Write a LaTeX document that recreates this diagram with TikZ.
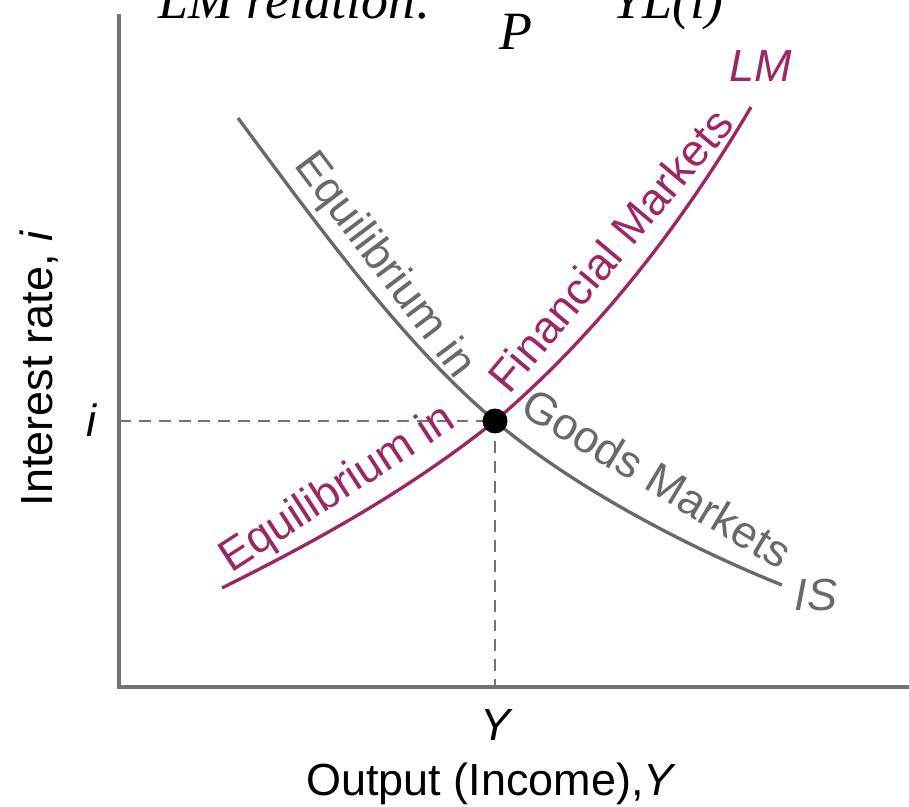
\documentclass[tikz,border=0pt]{standalone}
\usepackage{fontspec}
\setmainfont{Liberation Serif}
\setsansfont{Liberation Sans}
\usetikzlibrary{positioning,calc}
\definecolor{lmred}{RGB}{155,40,100}
\definecolor{isgray}{RGB}{105,105,105}
\definecolor{axgray}{RGB}{115,115,115}
\tikzset{
  axis/.style={draw=axgray, line width=2pt},
  iscurve/.style={draw=isgray, line width=1.9pt},
  lmcurve/.style={draw=lmred, line width=1.9pt},
  guide/.style={draw=axgray, line width=1.5pt, dash pattern=on 6.8pt off 4.5pt},
  eqdot/.style={circle, fill=black, minimum size=0.5cm, inner sep=0pt},
  lbl/.style={font=\sffamily\fontsize{25.6}{30}\selectfont, inner sep=0pt},
  islbl/.style={lbl, text=isgray},
  lmlbl/.style={lbl, text=lmred},
  toplbl/.style={font=\fontsize{30.7}{36}\selectfont\itshape, inner sep=0pt}
}

\begin{document}
\begin{tikzpicture}[x=0.02cm, y=-0.02cm]
\useasboundingbox (0,0) rectangle (909,807);
% relation cut off at the top edge
\begin{scope}
\clip (0,0) rectangle (909,807);
\node[toplbl, anchor=base west] (rel) at (158,19) {LM relation:};
\node[toplbl, anchor=base] (den) at (516,50) {P};
\node[toplbl, anchor=base west] (rhs) at (612,19) {YL(i)};
\end{scope}
% axes
\coordinate (o) at (119,687);
\coordinate (ytop) at (119,14);
\coordinate (xend) at (909,687);
\draw[axis] (ytop) -- (o) -- (xend);
% equilibrium and guides
\coordinate (e) at (495,421);
\draw[guide] (e -| o) -- (e);
\draw[guide] (e) -- (e |- o);
% IS and LM
\draw[iscurve] (238,118) .. controls (323,233) and (405,345) .. (e)
  .. controls (575,489) and (692,549) .. (782,585);
\draw[lmcurve] (222,588) .. controls (312,543) and (405,493) .. (e)
  .. controls (590,340) and (675,236) .. (751,107);
\node[eqdot] (eq) at (e) {};
% curve labels
\node[islbl, rotate=-53] (iseq) at (384,266) {Equilibrium in};
\node[islbl, rotate=-31] (isgm) at (657,478) {Goods Markets};
\node[lmlbl, rotate=33] (lmeq) at (338,490) {Equilibrium in};
\node[lmlbl, rotate=50] (lmfm) at (610,250) {Financial Markets};
\node[lmlbl, anchor=base] (lmname) at (761,82) {\itshape LM};
\node[islbl, anchor=base] (isname) at (816,610) {\itshape IS};
% axis labels
\node[lbl, anchor=base] (ilbl) at (91,436) {\itshape i};
\node[lbl, anchor=base] (ylbl) at (495,740) {\itshape Y};
\node[lbl, anchor=base] (xtitle) at (490,795) {Output (Income),\itshape Y};
\node[lbl, anchor=base, rotate=90] (ytitle) at (52,369) {Interest rate, \itshape i};
\end{tikzpicture}
\end{document}
